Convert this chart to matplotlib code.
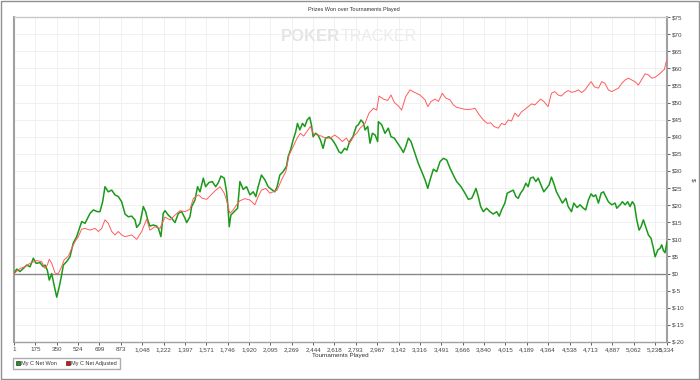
import matplotlib
matplotlib.use("Agg")
import matplotlib.pyplot as plt
from matplotlib.lines import Line2D
from matplotlib.patches import Rectangle
from matplotlib import font_manager

title = "Prizes Won over Tournaments Played"
xlabel = "Tournaments Played"
series_names = ["My C Net Won", "My C Net Adjusted"]

x_ticks = [1, 175, 350, 524, 699, 873, 1048, 1222, 1397, 1571, 1746, 1920, 2095,
           2269, 2444, 2618, 2793, 2967, 3142, 3316, 3491, 3666, 3840, 4015, 4189,
           4364, 4538, 4713, 4887, 5062, 5236, 5334]
y_ticks = list(range(-20, 80, 5))

won_x = [1, 23, 50, 77, 105, 132, 159, 181, 213, 240, 254, 273, 289, 309, 328, 350,
         371, 390, 404, 431, 458, 485, 513, 554, 581, 622, 649, 682, 703, 725, 744,
         771, 799, 826, 853, 880, 908, 935, 962, 989, 1003, 1030, 1057, 1076, 1093,
         1111, 1139, 1166, 1180, 1201, 1220, 1234, 1261, 1288, 1316, 1343, 1370, 1397,
         1411, 1438, 1452, 1479, 1500, 1520, 1547, 1566, 1593, 1620, 1648, 1670, 1691,
         1718, 1737, 1748, 1759, 1772, 1800, 1827, 1846, 1873, 1900, 1928, 1955, 1976,
         1995, 2022, 2050, 2077, 2104, 2131, 2150, 2172, 2199, 2226, 2240, 2259, 2281,
         2302, 2316, 2335, 2357, 2376, 2395, 2416, 2430, 2444, 2465, 2484, 2503, 2525,
         2546, 2574, 2601, 2628, 2655, 2674, 2701, 2720, 2742, 2769, 2796, 2813, 2835,
         2854, 2868, 2890, 2909, 2928, 2950, 2971, 2977, 3004, 3031, 3058, 3080, 3107,
         3135, 3162, 3181, 3200, 3222, 3243, 3271, 3303, 3331, 3358, 3380, 3399, 3426,
         3453, 3480, 3508, 3535, 3562, 3589, 3616, 3652, 3684, 3712, 3739, 3752, 3774,
         3793, 3812, 3834, 3861, 3888, 3915, 3943, 3964, 3983, 4010, 4029, 4051, 4078,
         4100, 4119, 4138, 4160, 4181, 4200, 4219, 4241, 4263, 4282, 4309, 4328, 4350,
         4371, 4390, 4409, 4431, 4459, 4480, 4508, 4527, 4554, 4573, 4600, 4624, 4651,
         4670, 4692, 4714, 4733, 4752, 4774, 4796, 4815, 4834, 4855, 4883, 4910, 4924,
         4951, 4970, 4992, 5013, 5032, 5051, 5068, 5087, 5106, 5122, 5141, 5160, 5182,
         5204, 5223, 5237, 5259, 5278, 5291, 5305, 5318, 5334]
won_y = [0, 1.3, 0.6, 1.5, 2.5, 2.0, 4.5, 3.0, 3.2, 2.0, 2.5, 1.0, -1.9, 0, -3.3, -6.9,
         -3.8, -0.4, 2.5, 3.5, 4.9, 8.9, 10.8, 15.2, 14.7, 17.6, 18.6, 18.1, 18.1, 21.0,
         25.4, 23.9, 24.4, 23.0, 22.5, 21.0, 17.4, 16.6, 16.8, 15.7, 13.5, 14.7, 19.6,
         18.1, 15.7, 13.9, 14.2, 13.9, 13.2, 10.8, 17.6, 18.4, 17.1, 16.2, 14.9, 17.6,
         18.1, 16.2, 14.9, 16.6, 19.6, 21.5, 25.4, 23.9, 27.9, 25.4, 26.6, 26.9, 25.4,
         26.6, 28.5, 27.9, 23.9, 19.6, 13.7, 17.1, 18.1, 19.1, 26.9, 24.6, 25.4, 23.0,
         23.9, 22.5, 25.4, 28.8, 27.4, 25.4, 24.6, 23.9, 25.4, 28.8, 29.8, 31.3, 34.2,
         36.1, 39.1, 41.5, 43.9, 42.0, 43.9, 43.0, 44.9, 45.7, 43.5, 40.0, 41.0, 40.5,
         39.1, 36.6, 39.6, 40.0, 39.1, 37.6, 35.6, 35.2, 36.6, 36.1, 38.6, 40.0, 43.0,
         43.5, 44.9, 44.1, 42.0, 43.0, 38.1, 41.0, 40.5, 38.6, 44.4, 43.5, 41.0, 42.5,
         40.0, 39.6, 38.1, 36.6, 35.4, 37.1, 39.6, 38.6, 35.6, 32.2, 29.8, 27.4, 24.9,
         27.4, 30.5, 29.8, 32.7, 33.7, 33.2, 30.8, 28.8, 26.9, 25.4, 23.5, 21.7, 22.0,
         23.0, 24.9, 22.5, 19.6, 18.1, 19.1, 18.1, 17.4, 18.1, 16.8, 18.6, 20.6, 23.5,
         23.9, 24.4, 22.5, 22.0, 23.5, 24.6, 26.4, 25.4, 27.9, 28.2, 26.9, 27.9, 25.6,
         23.9, 24.9, 25.9, 28.2, 26.4, 23.9, 22.0, 20.6, 22.0, 19.6, 18.1, 20.6, 19.3,
         20.1, 19.1, 18.6, 21.5, 23.3, 22.5, 23.0, 20.6, 23.5, 23.9, 22.5, 21.0, 20.1,
         20.6, 19.1, 20.1, 21.0, 20.1, 21.0, 19.6, 21.0, 20.1, 15.7, 12.7, 13.7, 15.7,
         13.7, 11.3, 10.3, 7.4, 4.9, 6.9, 7.4, 8.4, 6.7, 6.1, 9.3]

adj_x = [1, 50, 91, 132, 186, 227, 254, 273, 289, 309, 337, 363, 390, 410, 445, 472,
         499, 526, 554, 581, 622, 663, 690, 717, 744, 771, 799, 826, 853, 880, 908, 962,
         1003, 1044, 1084, 1111, 1152, 1193, 1234, 1275, 1316, 1357, 1397, 1438, 1466,
         1507, 1539, 1575, 1610, 1643, 1684, 1718, 1737, 1764, 1791, 1819, 1846, 1887,
         1928, 1968, 1995, 2022, 2058, 2090, 2118, 2150, 2186, 2221, 2248, 2281, 2313,
         2340, 2367, 2403, 2422, 2444, 2476, 2512, 2546, 2584, 2620, 2655, 2682, 2715,
         2742, 2782, 2800, 2827, 2868, 2900, 2936, 2963, 2982, 3018, 3053, 3080, 3107,
         3140, 3167, 3200, 3235, 3276, 3317, 3358, 3380, 3407, 3440, 3467, 3499, 3527,
         3562, 3589, 3616, 3652, 3684, 3725, 3766, 3801, 3834, 3866, 3894, 3921, 3956,
         3983, 4010, 4037, 4064, 4092, 4119, 4146, 4173, 4200, 4228, 4255, 4282, 4301,
         4328, 4363, 4390, 4418, 4445, 4472, 4499, 4527, 4554, 4583, 4610, 4637, 4665,
         4692, 4714, 4741, 4774, 4801, 4828, 4855, 4883, 4910, 4937, 4965, 4992, 5019,
         5046, 5073, 5100, 5128, 5155, 5182, 5210, 5237, 5264, 5291, 5313, 5324, 5334]
adj_y = [0, 1.5, 2.0, 3.0, 3.8, 3.5, 1.5, 2.5, 4.2, 3.0, 0.1, 0, 2.0, 4.0, 5.1, 7.4,
         9.3, 10.8, 13.0, 13.2, 12.7, 13.2, 12.3, 13.2, 15.7, 14.7, 12.3, 11.3, 12.3,
         11.3, 10.8, 11.3, 10.0, 12.3, 15.9, 12.7, 13.7, 13.2, 16.5, 15.7, 17.1, 18.4,
         18.1, 18.8, 22.0, 23.0, 22.0, 21.7, 23.0, 24.2, 25.4, 23.5, 21.5, 17.6, 18.6,
         20.1, 21.3, 21.9, 21.5, 20.1, 22.5, 24.4, 24.9, 23.5, 23.9, 24.4, 27.4, 29.8,
         34.7, 37.1, 39.6, 41.0, 40.2, 42.0, 43.0, 41.0, 40.5, 40.2, 39.6, 39.6, 40.5,
         39.6, 38.6, 39.6, 38.1, 40.5, 41.0, 42.5, 43.9, 46.9, 48.3, 47.8, 51.9, 51.0,
         50.6, 52.2, 50.0, 49.0, 47.8, 51.7, 53.7, 52.9, 52.2, 50.8, 48.8, 50.3, 51.0,
         50.3, 52.7, 51.3, 50.8, 49.3, 48.6, 48.3, 48.0, 48.0, 48.3, 46.4, 44.9, 43.9,
         44.1, 43.0, 42.5, 43.9, 43.5, 44.9, 44.6, 46.9, 45.9, 47.3, 48.0, 48.8, 49.6,
         49.3, 50.3, 51.0, 50.3, 48.8, 52.7, 53.2, 52.2, 51.9, 52.9, 53.5, 53.0, 53.2,
         53.7, 52.9, 53.7, 55.1, 56.1, 54.6, 54.2, 56.1, 55.6, 53.7, 53.2, 53.7, 54.2,
         55.6, 56.6, 57.1, 56.6, 56.1, 55.1, 56.8, 58.4, 58.1, 57.1, 57.4, 58.1, 59.0,
         59.7, 61.5, 62.3]

green = "#1a9a1a"
red = "#ff5c5c"

names = {f.name for f in font_manager.fontManager.ttflist}
narrow = 'Liberation Sans Narrow' if 'Liberation Sans Narrow' in names else 'Liberation Sans'
plt.rcParams['font.family'] = [narrow, 'DejaVu Sans']
fs = 4.5
fs_small = 4.0

fig = plt.figure(figsize=(7, 3.8), dpi=100)
fig.patch.set_facecolor("white")
ax = fig.add_axes([14/700, 1 - 342/380, (667 - 14)/700, (342 - 17)/380])

ax.set_xlim(1, 5334)
ax.set_ylim(-20, 75)
ax.set_xticks(x_ticks)
ax.set_xticklabels([f"{t:,}" for t in x_ticks])
ax.set_yticks(y_ticks)
ax.set_yticklabels([f"${v}" for v in y_ticks])
ax.yaxis.tick_right()
ax.yaxis.set_label_position("right")
ax.tick_params(axis='both', labelsize=fs, colors='#444444', length=2, width=0.6,
               pad=1.5)
ax.grid(True, color='#eeeeee', linewidth=0.6)
ax.set_axisbelow(True)
for side, sp in ax.spines.items():
    sp.set_color('#a0a0a0')
    sp.set_linewidth(1.5 if side in ('left', 'right') else 1.0)
ax.spines['top'].set_color('#c8c8c8')

ax.axhline(0, color='#888888', linewidth=1.0, zorder=1)

ax.text(0.5, 0.94, "POKER", transform=ax.transAxes, ha='right', va='center',
        fontsize=12, fontweight='bold', color='#e4e4e4', family='Liberation Sans',
        zorder=0)
ax.text(0.5, 0.94, "TRACKER", transform=ax.transAxes, ha='left', va='center',
        fontsize=11.5, color='#ececec', family=narrow, zorder=0)

ax.plot(won_x, won_y, color=green, linewidth=1.1, zorder=3)
ax.plot(adj_x, adj_y, color=red, linewidth=0.7, zorder=4)

ax.set_xlabel(xlabel, fontsize=fs, color='#333333', labelpad=0.5)
ax.set_ylabel("$", fontsize=fs, color='#333333', rotation=270, labelpad=8)
fig.text(0.505, 1 - 9/380, title, ha='center', va='center', fontsize=fs_small,
         color='#333333')

handles = [Line2D([], [], marker='s', linestyle='none', markersize=3.2,
                  markerfacecolor=green, markeredgecolor='#333333', markeredgewidth=0.5),
           Line2D([], [], marker='s', linestyle='none', markersize=3.2,
                  markerfacecolor='#e01010', markeredgecolor='#333333', markeredgewidth=0.5)]
leg = fig.legend(handles, series_names, loc='upper left',
                 bbox_to_anchor=(13/700, 1 - 358/380), ncol=2, fontsize=fs_small,
                 frameon=True, fancybox=False, handletextpad=0.2,
                 columnspacing=1.6, borderpad=0.55, handlelength=0.7,
                 borderaxespad=0)
leg.get_frame().set_edgecolor('#999999')
leg.get_frame().set_linewidth(1.0)
for t in leg.get_texts():
    t.set_color('#333333')

fig.patches.append(Rectangle((0.001, 0.002), 0.997, 0.996, transform=fig.transFigure,
                             fill=False, edgecolor='#909090', linewidth=1.0))

fig.savefig("out.png", dpi=100)
